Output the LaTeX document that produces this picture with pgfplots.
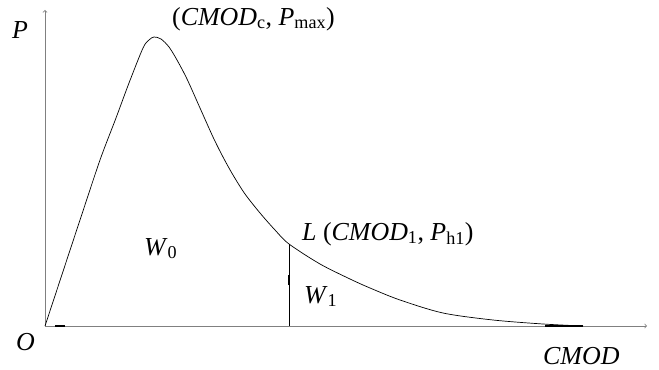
\documentclass[border=0pt]{standalone}
\usepackage{fontspec}
\setmainfont{Liberation Serif}
\usepackage{pgfplots}
\pgfplotsset{compat=1.18}
\newcommand\sub[1]{\textsubscript{#1}}
\begin{document}
\begin{tikzpicture}[x=1bp,y=1bp]
\path[use as bounding box] (0,0) rectangle (659,369);
\begin{axis}[
  at={(45bp,43bp)}, anchor=south west,
  scale only axis, width=602bp, height=316bp,
  xmin=0, xmax=602, ymin=0, ymax=316,
  axis lines=left,
  axis line style={black!50, line width=0.8pt, -to},
  xtick=\empty, ytick=\empty,
  clip=false,
]
\addplot[black, line width=0.7pt, smooth, tension=0.5] coordinates {
(0,0) (35,106) (55,166) (71,208) (84,243) (98,278) (104,286) (109,289)
(116,287) (124,279) (132,266) (142,247) (155,218) (168,189) (178,169)
(188,151) (200,132) (215,113) (230,96) (244,82) (275,62) (305,47)
(325,38) (355,26) (398,13) (448,6) (498,2) (538,0)
};
\addplot[black, line width=0.6pt] coordinates {(244,0) (244,82)};
\addplot[black, line width=1.3pt] coordinates {(244,41) (244,51)};
\addplot[black, line width=1.3pt] coordinates {(10,0) (20,0)};
\addplot[black, line width=1.1pt] coordinates {(500,0) (538,0)};
\end{axis}
\begin{scope}[font=\fontsize{26}{30}\selectfont, inner sep=0pt]
\node[anchor=base west] at (12,331) {\textit{P}};
\node[anchor=base west] at (172,344) {(\textit{CMOD}\sub{c}, \textit{P}\sub{max})};
\node[anchor=base west] at (302,129) {\textit{L} (\textit{CMOD}\sub{1}, \textit{P}\sub{h1})};
\node[anchor=base west] at (144,114) {\textit{W}\sub{0}};
\node[anchor=base west] at (304,66) {\textit{W}\sub{1}};
\node[anchor=base west] at (16,19) {\textit{O}};
\node[anchor=base west] at (543,5) {\textit{CMOD}};
\end{scope}
\end{tikzpicture}
\end{document}
